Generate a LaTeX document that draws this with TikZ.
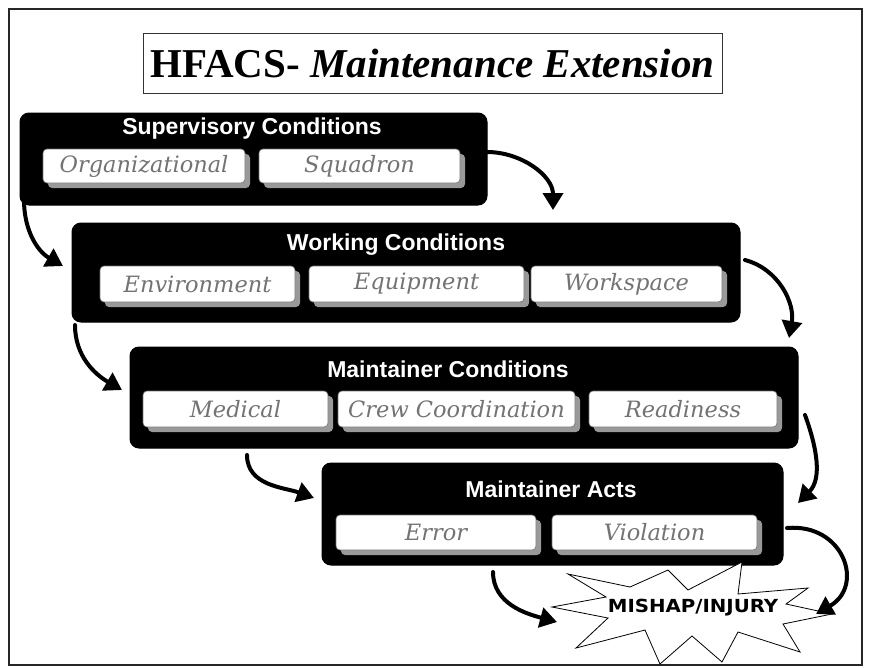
\documentclass[tikz,border=0pt]{standalone}
\usepackage{fontspec}
\setmainfont{Liberation Serif}
\newfontfamily\arialf{Liberation Sans}
\newfontfamily\subf{DejaVu Serif}
\newfontfamily\mishapf{DejaVu Sans Condensed}
\usetikzlibrary{arrows.meta,calc,shadows}
\tikzset{
  bigbox/.style={fill=black, draw=black, rounded corners=9pt, line width=1pt, inner sep=0pt},
  bigtitle/.style={text=white, inner sep=0pt, font=\arialf\bfseries\fontsize{23}{23}\selectfont},
  subbox/.style={fill=white, draw=black!55, line width=0.6pt, rounded corners=4pt, inner sep=0pt,
    text=black!55, font=\subf\itshape\fontsize{22.5}{22.5}\selectfont,
    drop shadow={shadow xshift=5pt, shadow yshift=-5pt, fill=black!40, opacity=1}},
  flow/.style={line width=4pt, line cap=round, -{Triangle[length=17pt,width=20pt]}},
}
\begin{document}
\begin{tikzpicture}[x=1pt,y=1pt]
\useasboundingbox (0,0) rectangle (870,-667);
\draw[black!85, line width=1.2pt] (9,-9) rectangle (862,-665);

% title
\node[draw=black!80, line width=0.8pt, fill=white, minimum width=579pt, minimum height=60pt, inner sep=0pt]
  (title) at (432.5,-63) {\fontsize{41}{41}\selectfont\bfseries HFACS- \itshape Maintenance Extension};

% Supervisory
\node[bigbox, minimum width=467pt, minimum height=92pt] (sup) at (253.5,-159) {};
\node[bigtitle] (supT) at (252,-129) {Supervisory Conditions};
\node[subbox, minimum width=202pt, minimum height=34pt] (org) at (144,-166) {Organizational};
\node[subbox, minimum width=201pt, minimum height=34pt] (squ) at (359.5,-166) {Squadron};

% Working
\node[bigbox, minimum width=668pt, minimum height=99pt] (work) at (406,-272.5) {};
\node[bigtitle] (workT) at (396,-245) {Working Conditions};
\node[subbox, minimum width=195pt, minimum height=36pt] (env) at (197.5,-284) {Environment};
\node[subbox, minimum width=215pt, minimum height=36pt] (equ) at (416.5,-284) {Equipment};
\node[subbox, minimum width=191pt, minimum height=36pt] (wsp) at (626.5,-284) {Workspace};

% Maintainer conditions
\node[bigbox, minimum width=668pt, minimum height=101pt] (mc) at (464,-397.5) {};
\node[bigtitle] (mcT) at (448,-369) {Maintainer Conditions};
\node[subbox, minimum width=185pt, minimum height=36pt] (med) at (235.5,-409) {Medical};
\node[subbox, minimum width=237pt, minimum height=36pt] (crew) at (456.5,-409) {Crew Coordination};
\node[subbox, minimum width=188pt, minimum height=36pt] (rdy) at (683,-409) {Readiness};

% Maintainer acts
\node[bigbox, minimum width=461pt, minimum height=102pt] (ma) at (552.5,-514) {};
\node[bigtitle] (maT) at (551,-489) {Maintainer Acts};
\node[subbox, minimum width=200pt, minimum height=35pt] (err) at (436,-532.5) {Error};
\node[subbox, minimum width=205pt, minimum height=35pt] (vio) at (654.5,-532.5) {Violation};

% starburst
\draw[fill=white, line width=0.8pt, line join=miter]
  (552,-607) -- (606,-597) -- (568,-574) -- (630,-587) -- (668,-570) -- (688,-590)
  -- (742,-562) -- (738,-594) -- (808,-588) -- (786,-604) -- (832,-614) -- (783,-624)
  -- (800,-652) -- (738,-632) -- (722,-662) -- (692,-636) -- (660,-664) -- (645,-630)
  -- (576,-648) -- (608,-618) -- cycle;
\node[inner sep=0pt, font=\mishapf\bfseries\fontsize{18}{18}\selectfont] (mishap) at (693,-608)
  {\scalebox{1.22}[1]{MISHAP/INJURY}};

% arrows
\coordinate (a1s) at (487,-152); \coordinate (a1e) at (553,-210);
\coordinate (a2s) at (24,-200);  \coordinate (a2e) at (63,-266);
\coordinate (a3s) at (745,-260); \coordinate (a3e) at (789,-338);
\coordinate (a4s) at (75,-325);  \coordinate (a4e) at (122,-390);
\coordinate (a5s) at (247,-455); \coordinate (a5e) at (314,-498);
\coordinate (a6s) at (805,-415); \coordinate (a6e) at (798,-503);
\coordinate (a7s) at (493,-572); \coordinate (a7e) at (557,-622);
\coordinate (a8s) at (787,-528); \coordinate (a8e) at (816,-614);
\draw[flow] (a1s) to[out=0,in=90] (a1e);
\draw[flow] (a2s) to[out=-90,in=150] (a2e);
\draw[flow] (a3s) to[out=-15,in=80] (a3e);
\draw[flow] (a4s) to[out=-90,in=150] (a4e);
\draw[flow] (a5s) to[out=-90,in=160] (a5e);
\draw[flow] (a6s) to[out=-70,in=45] (a6e);
\draw[flow] (a7s) to[out=-90,in=165] (a7e);
\draw[flow] (a8s) to[out=5,in=30,looseness=1.6] (a8e);
\end{tikzpicture}
\end{document}
